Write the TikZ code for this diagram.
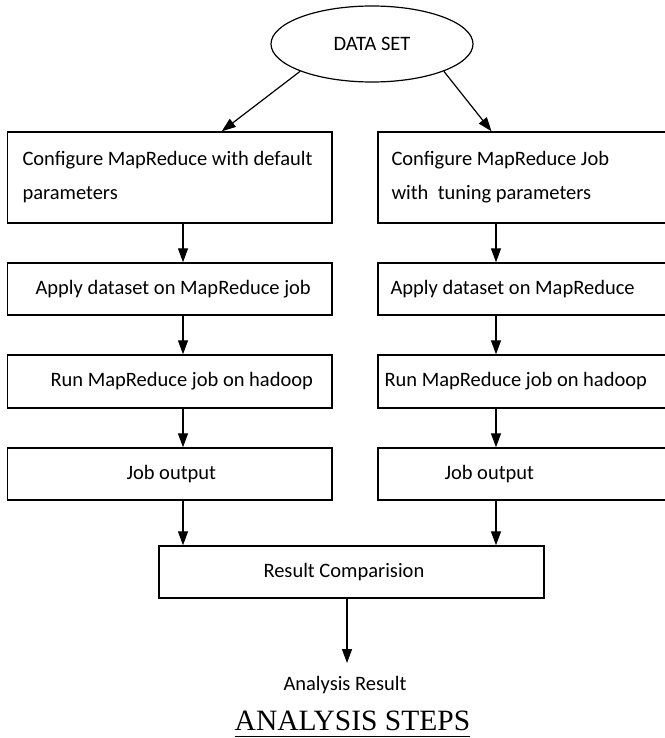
\documentclass[tikz,border=0pt]{standalone}
\usepackage{fontspec}
\setmainfont{Carlito}
\newfontfamily\titlefont{Liberation Serif}
\usetikzlibrary{arrows.meta}
\usetikzlibrary{shapes.geometric}

\begin{document}
\begin{tikzpicture}[x=1pt, y=-1pt,
  stepbox/.style={draw, line width=1.4pt, rectangle, inner sep=0pt},
  steptext/.style={anchor=west, inner sep=0pt, align=left, font=\fontsize{20.5}{34}\selectfont},
  arr/.style={line width=1.2pt, -{Triangle[length=14pt, width=10pt]}}]
\useasboundingbox (0,0) rectangle (664,738);
\coordinate (colL) at (183,0);
\coordinate (colR) at (496,0);
\coordinate (colM) at (347,0);

\node[draw, ellipse, line width=1.2pt, minimum width=202pt, minimum height=76pt, inner sep=0pt,
      font=\fontsize{20.5}{24}\selectfont] (data) at (372,44) {DATA SET};

\node[stepbox, minimum width=324.5pt, minimum height=91pt] (cfgL) at (169.75,177.5) {};
\node[stepbox, minimum width=292pt, minimum height=91pt] (cfgR) at (524,177.5) {};
\node[stepbox, minimum width=324.5pt, minimum height=52pt] (appL) at (169.75,289) {};
\node[stepbox, minimum width=292pt, minimum height=52pt] (appR) at (524,289) {};
\node[stepbox, minimum width=324.5pt, minimum height=53pt] (runL) at (169.75,381.5) {};
\node[stepbox, minimum width=292pt, minimum height=53pt] (runR) at (524,381.5) {};
\node[stepbox, minimum width=324.5pt, minimum height=52pt] (outL) at (169.75,474) {};
\node[stepbox, minimum width=292pt, minimum height=52pt] (outR) at (524,474) {};
\node[stepbox, minimum width=385pt, minimum height=52pt] (res) at (351.5,572) {};

\node[steptext] (cfgLtext) at ([xshift=15.5pt]cfgL.west) {Configure MapReduce with default\\parameters};
\node[steptext] (cfgRtext) at ([xshift=14pt]cfgR.west) {Configure MapReduce Job\\with~ tuning parameters};
\node[steptext] (appLtext) at ([xshift=28.5pt]appL.west) {Apply dataset on MapReduce job};
\node[steptext] (appRtext) at ([xshift=13pt]appR.west) {Apply dataset on MapReduce};
\node[steptext] (runLtext) at ([xshift=43.5pt]runL.west) {Run MapReduce job on hadoop};
\node[steptext] (runRtext) at ([xshift=7pt]runR.west) {Run MapReduce job on hadoop};
\node[steptext] (outLtext) at ([xshift=119.5pt]outL.west) {Job output};
\node[steptext] (outRtext) at ([xshift=67pt]outR.west) {Job output};
\node[steptext] (restext) at ([xshift=105pt]res.west) {Result Comparision};
\node[steptext, anchor=center] (ana) at (345,685) {Analysis Result};

\node[anchor=base, inner sep=0pt, font=\titlefont\fontsize{29.5}{32}\selectfont] (title) at (352.5,730) {ANALYSIS STEPS};
\draw[line width=1.5pt] ([yshift=-6.5pt]title.base west) -- ([yshift=-6.5pt]title.base east);

\draw[arr] (data.south west) -- ([xshift=52pt]cfgL.north);
\draw[arr] (data.south east) -- ([xshift=-32.5pt]cfgR.north);
\foreach \a/\b in {cfgL/appL, appL/runL, runL/outL, outL/res}
  \draw[arr] (\a.south -| colL) -- (\b.north -| colL);
\foreach \a/\b in {cfgR/appR, appR/runR, runR/outR, outR/res}
  \draw[arr] (\a.south -| colR) -- (\b.north -| colR);
\draw[arr, shorten >=13pt] (res.south -| colM) -- (ana.north -| colM);
\end{tikzpicture}
\end{document}
